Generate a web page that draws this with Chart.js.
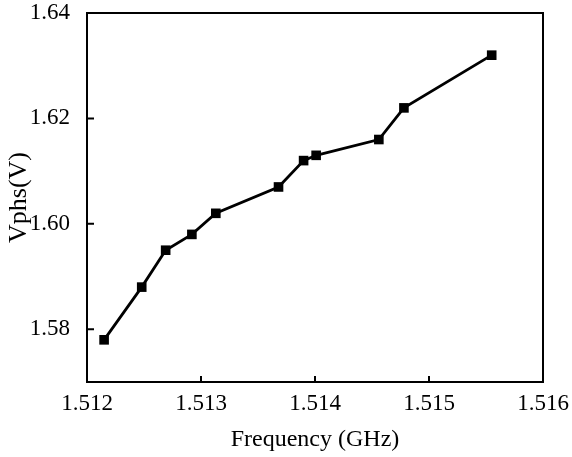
<!DOCTYPE html>
<html lang="en">

<head>
    <meta charset="UTF-8">
    <title>Vphs vs Frequency</title>
    <style>
        html, body {
            margin: 0;
            padding: 0;
            background: #fff;
        }

        .wrap {
            width: 572px;
            height: 457px;
        }
    </style>
</head>

<body>

    <div class="wrap">
        <canvas id="chart" width="572" height="457"></canvas>
    </div>

    <script src="https://cdn.jsdelivr.net/npm/chart.js@4.4.3/dist/chart.umd.min.js"></script>

    <script>
        // values
        const freq = [1.51215, 1.51248, 1.51269, 1.51292, 1.51313, 1.51368, 1.51390, 1.51401, 1.51456, 1.51478, 1.51555]
        const vphs = [1.578, 1.588, 1.595, 1.598, 1.602, 1.607, 1.612, 1.613, 1.616, 1.622, 1.632]
        const xTicks = [1.512, 1.513, 1.514, 1.515, 1.516]
        const yTicks = [1.58, 1.60, 1.62, 1.64]

        const font = 'Liberation Serif'

        // box round the plot + inward tick marks
        const frame = {
            id: 'frame',
            afterDraw(chart) {
                const { ctx, chartArea: a, scales } = chart
                ctx.save()
                ctx.strokeStyle = '#000'
                ctx.lineWidth = 2
                ctx.strokeRect(a.left, a.top, a.right - a.left, a.bottom - a.top)
                ctx.beginPath()
                xTicks.forEach(v => {
                    const x = scales.x.getPixelForValue(v)
                    ctx.moveTo(x, a.bottom)
                    ctx.lineTo(x, a.bottom - 6)
                })
                yTicks.forEach(v => {
                    const y = scales.y.getPixelForValue(v)
                    ctx.moveTo(a.left, y)
                    ctx.lineTo(a.left + 7, y)
                })
                ctx.stroke()
                ctx.restore()
            }
        }

        const ctx = document.getElementById('chart').getContext('2d')

        new Chart(ctx, {
            type: 'scatter',
            data: {
                datasets: [{
                    data: freq.map((f, i) => ({ x: f, y: vphs[i] })),
                    showLine: true,
                    borderColor: '#000',
                    backgroundColor: '#000',
                    borderWidth: 2.8,
                    pointStyle: 'rect',
                    pointRadius: 6.8,
                    pointBorderWidth: 0,
                    tension: 0,
                }],
            },
            options: {
                responsive: false,
                animation: false,
                layout: {
                    padding: { top: 13, right: 29, left: 0, bottom: 0 }
                },
                plugins: {
                    legend: { display: false },
                    tooltip: { enabled: false },
                },
                scales: {
                    x: {
                        type: 'linear',
                        min: 1.512,
                        max: 1.516,
                        afterBuildTicks: s => { s.ticks = xTicks.map(v => ({ value: v })) },
                        afterFit: s => {
                            s.height = 457 - 382
                            s.paddingLeft = 0
                            s.paddingRight = 0
                        },
                        grid: { display: false },
                        border: { display: false },
                        ticks: {
                            color: '#000',
                            padding: 0,
                            font: { family: font, size: 23 },
                            callback: v => v.toFixed(3),
                        },
                        title: {
                            display: true,
                            text: 'Frequency (GHz)',
                            color: '#000',
                            padding: { top: 0, bottom: 3 },
                            font: { family: font, size: 24 },
                        },
                    },
                    y: {
                        min: 1.57,
                        max: 1.64,
                        afterBuildTicks: s => { s.ticks = yTicks.map(v => ({ value: v })) },
                        afterFit: s => {
                            s.width = 87
                            s.paddingTop = 0
                            s.paddingBottom = 0
                        },
                        grid: { display: false },
                        border: { display: false },
                        ticks: {
                            color: '#000',
                            padding: 9,
                            font: { family: font, size: 23 },
                            callback: v => v.toFixed(2),
                        },
                        title: {
                            display: true,
                            text: 'Vphs(V)',
                            color: '#000',
                            padding: { top: 4, bottom: 0 },
                            font: { family: font, size: 26 },
                        },
                    },
                },
            },
            plugins: [frame],
        });
    </script>

</body>

</html>
